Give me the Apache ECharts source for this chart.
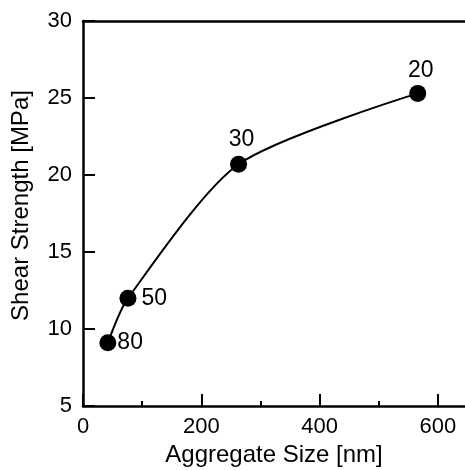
<!DOCTYPE html>
<html>
<head>
<meta charset="utf-8">
<script src="https://cdn.jsdelivr.net/npm/echarts@6/dist/echarts.min.js"></script>
<style>
  html, body { margin: 0; padding: 0; background: #fff; }
  #chart { width: 465px; height: 470px; }
</style>
</head>
<body>
<div id="chart"></div>
<script>
// aggregate size [nm] vs shear strength [MPa], label = point tag
const sizes = [42, 76, 263, 566];
const strengths = [9.1, 12.0, 20.7, 25.3];
const tags = ['80', '50', '30', '20'];
const xTicks = [0, 200, 400, 600];
const yTicks = [5, 10, 15, 20, 25, 30];

const font = 'Liberation Sans, Arial, sans-serif';
const chart = echarts.init(document.getElementById('chart'));

const labelPos = ['right', 'right', 'top', 'top'];
const labelDist = [1, 5, 5, 3];
const points = sizes.map((x, i) => ({
  value: [x, strengths[i]],
  label: {
    show: true,
    formatter: tags[i],
    position: labelPos[i],
    distance: labelDist[i],
    offset: i >= 2 ? [3, 0] : [0, 0],
    color: '#000',
    fontSize: 23,
    fontFamily: font
  }
}));

// plot is cropped on the right, the axis runs on past the window edge
const option = {
  backgroundColor: '#fff',
  animation: false,
  grid: { left: 83, top: 21, width: 414, bottom: 64, outerBoundsMode: 'none', containLabel: false },
  xAxis: [{
    type: 'value',
    min: 0,
    max: 700,
    interval: 200,
    name: 'Aggregate Size [nm]',
    nameLocation: 'middle',
    nameGap: 23,
    nameTextStyle: { color: '#000', fontSize: 24, fontFamily: font, padding: [0, 32, 0, 0] },
    axisLine: { show: true, onZero: false, lineStyle: { color: '#000', width: 2.5 } },
    axisTick: { show: true, inside: true, length: 12, lineStyle: { color: '#000', width: 2 } },
    minorTick: { show: true, splitNumber: 2, length: 5, lineStyle: { color: '#000', width: 2 } },
    axisLabel: {
      color: '#000', fontSize: 22, fontFamily: font, margin: 10,
      formatter: v => xTicks.includes(v) ? String(v) : ''
    },
    splitLine: { show: false },
    minorSplitLine: { show: false }
  }, {
    type: 'value',
    position: 'top',
    min: 0,
    max: 700,
    axisLine: { show: true, onZero: false, lineStyle: { color: '#000', width: 2.5 } },
    axisTick: { show: false },
    axisLabel: { show: false },
    splitLine: { show: false }
  }],
  yAxis: {
    type: 'value',
    min: 5,
    max: 30,
    interval: 5,
    name: 'Shear Strength [MPa]',
    nameLocation: 'middle',
    nameGap: 50,
    nameTextStyle: { color: '#000', fontSize: 24, fontFamily: font, padding: [0, 0, 0, 16] },
    axisLine: { show: true, onZero: false, lineStyle: { color: '#000', width: 2.5 } },
    axisTick: { show: true, inside: true, length: 12, lineStyle: { color: '#000', width: 2 } },
    axisLabel: {
      color: '#000', fontSize: 22, fontFamily: font, margin: 11,
      formatter: v => yTicks.includes(v) ? String(v) : ''
    },
    splitLine: { show: false }
  },
  series: [{
    type: 'line',
    data: sizes.map((x, i) => [x, strengths[i]]),
    smooth: 0.25,
    showSymbol: false,
    lineStyle: { color: '#000', width: 2 },
    z: 2
  }, {
    type: 'scatter',
    data: points,
    symbol: 'circle',
    symbolSize: 17,
    itemStyle: { color: '#000', opacity: 1 },
    z: 3
  }]
};

chart.setOption(option);
</script>
</body>
</html>
